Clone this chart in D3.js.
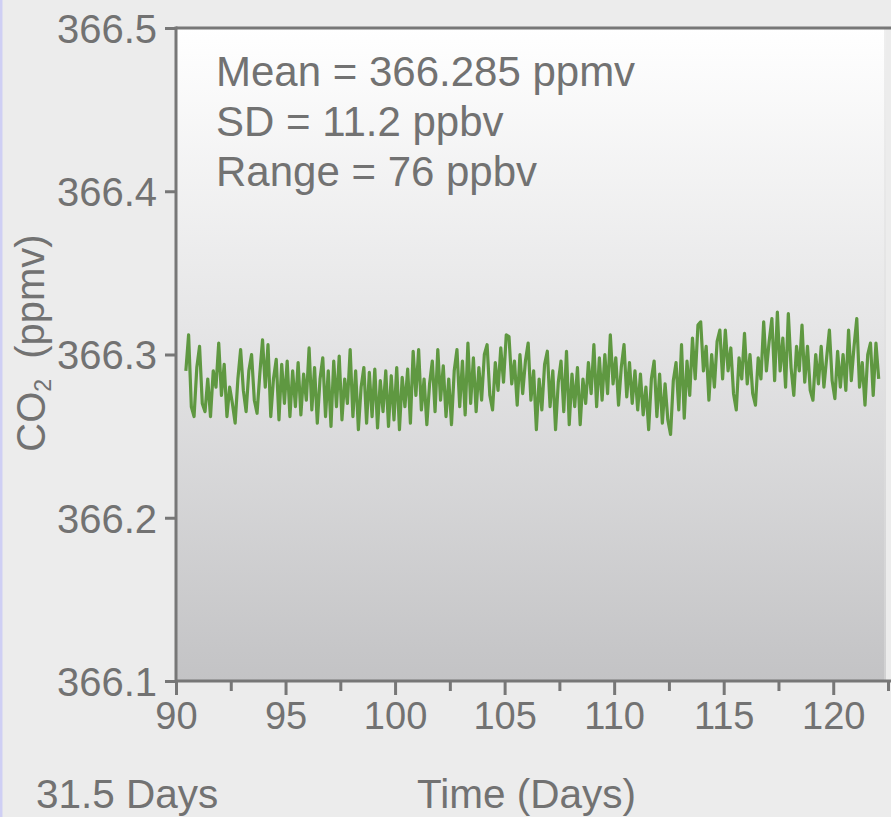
<!DOCTYPE html>
<html>
<head>
<meta charset="utf-8">
<script src="https://cdn.jsdelivr.net/npm/d3@7/dist/d3.min.js"></script>
<style>
  html, body { margin: 0; padding: 0; background: #ececec; }
  svg { display: block; }
  text { font-family: "Liberation Sans", Arial, Helvetica, sans-serif; fill: #727272; }
</style>
</head>
<body>
<svg id="chart" width="891" height="817"></svg>
<script>
// ---- Data ----
const startDay = 90.45;      // first sample (days)
const stepDays = 0.125;      // sampling interval (days)
const co2 = [
  366.290, 366.312, 366.268, 366.262, 366.292, 366.305, 366.270, 366.265,
  366.285, 366.262, 366.290, 366.280, 366.307, 366.275, 366.294, 366.262,
  366.280, 366.270, 366.258, 366.285, 366.303, 366.278, 366.265, 366.290,
  366.300, 366.272, 366.264, 366.288, 366.309, 366.280, 366.306, 366.262,
  366.285, 366.297, 366.260, 366.294, 366.270, 366.296, 366.262, 366.290,
  366.268, 366.295, 366.263, 366.288, 366.272, 366.304, 366.266, 366.292,
  366.258, 366.285, 366.298, 366.262, 366.290, 366.256, 366.296, 366.268,
  366.299, 366.260, 366.285, 366.270, 366.303, 366.262, 366.290, 366.254,
  366.280, 366.292, 366.258, 366.289, 366.262, 366.291, 366.255, 366.284,
  366.265, 366.290, 366.256, 366.287, 366.260, 366.292, 366.254, 366.286,
  366.268, 366.291, 366.258, 366.302, 366.275, 366.303, 366.266, 366.285,
  366.257, 366.282, 366.296, 366.265, 366.303, 366.272, 366.293, 366.262,
  366.285, 366.257, 366.290, 366.303, 366.268, 366.296, 366.263, 366.307,
  366.270, 366.298, 366.265, 366.292, 366.272, 366.300, 366.306, 366.275,
  366.266, 366.295, 366.278, 366.304, 366.283, 366.312, 366.311, 366.282,
  366.296, 366.269, 366.300, 366.276, 366.296, 366.307, 366.272, 366.290,
  366.254, 366.285, 366.266, 366.294, 366.302, 366.268, 366.290, 366.254,
  366.283, 366.296, 366.265, 366.302, 366.257, 366.288, 366.268, 366.292,
  366.257, 366.285, 366.270, 366.295, 366.276, 366.306, 366.268, 366.298,
  366.272, 366.300, 366.276, 366.312, 366.282, 366.298, 366.269, 366.292,
  366.306, 366.274, 366.295, 366.270, 366.290, 366.266, 366.288, 366.263,
  366.280, 366.254, 366.285, 366.296, 366.262, 366.288, 366.258, 366.282,
  366.260, 366.251, 366.284, 366.295, 366.266, 366.306, 366.261, 366.296,
  366.275, 366.310, 366.285, 366.318, 366.320, 366.290, 366.305, 366.272,
  366.300, 366.280, 366.308, 366.315, 366.285, 366.315, 366.290, 366.304,
  366.276, 366.266, 366.298, 366.285, 366.313, 366.282, 366.300, 366.276,
  366.269, 366.298, 366.285, 366.320, 366.290, 366.308, 366.322, 366.284,
  366.326, 366.290, 366.310, 366.280, 366.325, 366.292, 366.275, 366.305,
  366.290, 366.318, 366.283, 366.305, 366.278, 366.272, 366.300, 366.282,
  366.305, 366.280, 366.298, 366.315, 366.284, 366.273, 366.302, 366.280,
  366.300, 366.278, 366.315, 366.284, 366.305, 366.322, 366.280, 366.295,
  366.269, 366.300, 366.307, 366.275, 366.307, 366.285
];
const xMajorTicks = [90, 95, 100, 105, 110, 115, 120];
const xMinorTicks = [92.5, 97.5, 102.5, 107.5, 112.5, 117.5, 122.5];
const yTicks = [366.1, 366.2, 366.3, 366.4, 366.5];
const statsLines = ["Mean = 366.285 ppmv", "SD = 11.2 ppbv", "Range = 76 ppbv"];
const durationLabel = "31.5 Days";
const xTitle = "Time (Days)";

// ---- Layout ----
const svg = d3.select("#chart");
const mLeft = 176, mRight = 888, mTop = 28, mBottom = 681, plotRight = 886;

const x = d3.scaleLinear().domain([90, 122.5]).range([mLeft, mRight]);
const y = d3.scaleLinear().domain([366.1, 366.5]).range([mBottom, mTop]);

// left lavender edge
svg.append("rect").attr("x", 0).attr("y", 0).attr("width", 2.5).attr("height", 817).attr("fill", "#cfcff4");

// gradient background
const defs = svg.append("defs");
const grad = defs.append("linearGradient").attr("id", "bg").attr("x1", 0).attr("y1", 0).attr("x2", 0).attr("y2", 1);
grad.append("stop").attr("offset", "0%").attr("stop-color", "#ffffff");
grad.append("stop").attr("offset", "45%").attr("stop-color", "#e6e6e7");
grad.append("stop").attr("offset", "100%").attr("stop-color", "#c3c3c5");

svg.append("rect")
  .attr("x", mLeft).attr("y", mTop)
  .attr("width", plotRight - mLeft).attr("height", mBottom - mTop)
  .attr("fill", "url(#bg)");
// faint right border
svg.append("line").attr("x1", plotRight - 1).attr("x2", plotRight - 1).attr("y1", mTop).attr("y2", mBottom)
  .attr("stroke", "#dedede").attr("stroke-width", 1);

// data line
const line = d3.line()
  .x((d, i) => x(startDay + i * stepDays))
  .y(d => y(d));
svg.append("path")
  .datum(co2)
  .attr("fill", "none")
  .attr("stroke", "#5f9841")
  .attr("stroke-width", 3.2)
  .attr("stroke-linejoin", "round")
  .attr("d", line);

// axes
const axisColor = "#777777";
const xAxisMajor = d3.axisBottom(x).tickValues(xMajorTicks).tickSize(14).tickSizeOuter(0).tickPadding(4).tickFormat(d3.format("d"));
const gx = svg.append("g").attr("transform", `translate(0,${mBottom})`).call(xAxisMajor);
const xAxisMinor = d3.axisBottom(x).tickValues(xMinorTicks).tickSize(10).tickSizeOuter(0).tickFormat("");
const gxm = svg.append("g").attr("transform", `translate(0,${mBottom})`).call(xAxisMinor);
[gx, gxm].forEach(g => {
  g.select(".domain").remove();
  g.selectAll(".tick line").attr("stroke", axisColor).attr("stroke-width", 3);
});
gx.selectAll(".tick text")
  .attr("fill", "#727272").style("font-size", "38px")
  .attr("y", 0).attr("dy", null)
  .attr("transform", "translate(0,48)");

const yAxis = d3.axisLeft(y).tickValues(yTicks).tickSize(11).tickSizeOuter(0).tickPadding(8).tickFormat(d3.format(".1f"));
const gy = svg.append("g").attr("transform", `translate(${mLeft},0)`).call(yAxis);
gy.select(".domain").remove();
gy.selectAll(".tick line").attr("stroke", axisColor).attr("stroke-width", 3);
gy.selectAll(".tick text").attr("fill", "#727272").style("font-size", "40px").attr("dy", "0.36em");

// axis lines (left, bottom, top)
svg.append("line").attr("x1", mLeft).attr("x2", mLeft).attr("y1", mTop - 1.5).attr("y2", mBottom + 1.5)
  .attr("stroke", axisColor).attr("stroke-width", 3);
svg.append("line").attr("x1", mLeft).attr("x2", 891).attr("y1", mBottom).attr("y2", mBottom)
  .attr("stroke", axisColor).attr("stroke-width", 3);
svg.append("line").attr("x1", mLeft).attr("x2", 891).attr("y1", mTop).attr("y2", mTop)
  .attr("stroke", axisColor).attr("stroke-width", 3);

// stats annotation
svg.append("g").selectAll("text").data(statsLines).join("text")
  .attr("x", 216).attr("y", (d, i) => 86 + i * 50)
  .style("font-size", "42px")
  .text(d => d);

// bottom labels
svg.append("text").attr("x", 36).attr("y", 808).style("font-size", "40.5px").text(durationLabel);
svg.append("text").attr("x", 417).attr("y", 808).style("font-size", "40.5px").text(xTitle);

// y title
const yt = svg.append("text")
  .attr("transform", `translate(45,343) rotate(-90)`)
  .attr("text-anchor", "middle")
  .style("font-size", "40px");
yt.append("tspan").text("CO");
yt.append("tspan").attr("dy", "0.25em").style("font-size", "23px").text("2");
yt.append("tspan").attr("dy", "-0.16em").text("\u2002(ppmv)");
</script>
</body>
</html>
